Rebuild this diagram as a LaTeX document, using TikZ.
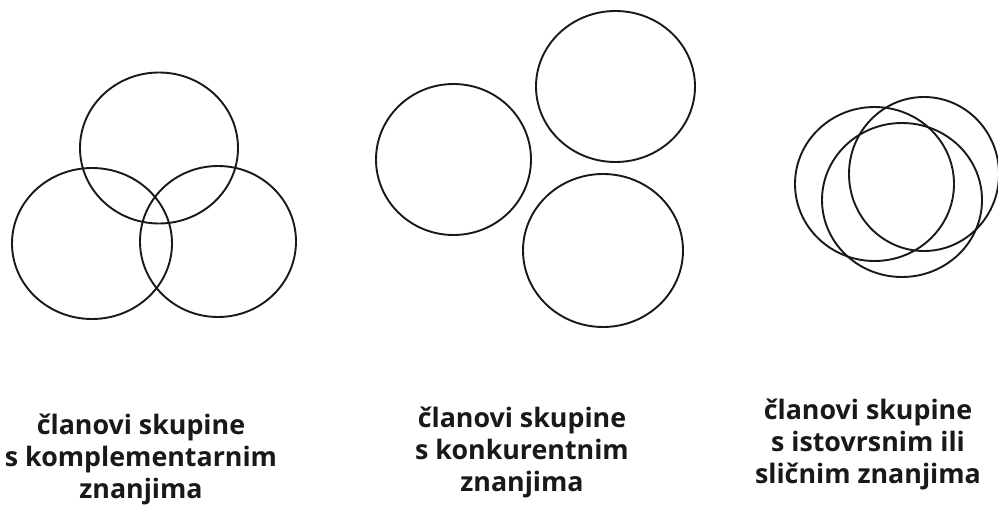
\documentclass[tikz,border=0pt]{standalone}
\usepackage{fontspec}
\setmainfont{Open Sans}
\usetikzlibrary{shapes.geometric}
\tikzset{
  ring/.style={draw=black!90, line width=1.9pt, ellipse, inner sep=0pt},
  caption/.style={align=center, inner sep=0pt, text=black!90,
    font=\bfseries\fontsize{26.8}{32}\selectfont, anchor=base}
}
\begin{document}
\begin{tikzpicture}[x=1pt,y=-1pt]
\useasboundingbox[fill=white] (0,0) rectangle (998,514);
% left group
\node[ring, minimum width=158, minimum height=151] (l1) at (159,148) {};
\node[ring, minimum width=160, minimum height=151] (l2) at (92,243.5) {};
\node[ring, minimum width=156, minimum height=151] (l3) at (218,241.5) {};
% middle group
\node[ring, minimum width=155, minimum height=151] (m1) at (453.5,159.5) {};
\node[ring, minimum width=159, minimum height=151] (m2) at (615.5,86.5) {};
\node[ring, minimum width=160, minimum height=153] (m3) at (603,250.5) {};
% right group
\node[ring, minimum width=159, minimum height=154] (r1) at (874.5,184) {};
\node[ring, minimum width=150, minimum height=154] (r2) at (924,174) {};
\node[ring, minimum width=160, minimum height=154] (r3) at (902,200) {};
% captions
\node[caption] (t1) at (141,498) {članovi skupine\\s komplementarnim\\znanjima};
\node[caption] (t2) at (522,491) {članovi skupine\\s konkurentnim\\znanjima};
\node[caption] (t3) at (868,483) {članovi skupine\\s istovrsnim ili\\sličnim znanjima};
\end{tikzpicture}
\end{document}
